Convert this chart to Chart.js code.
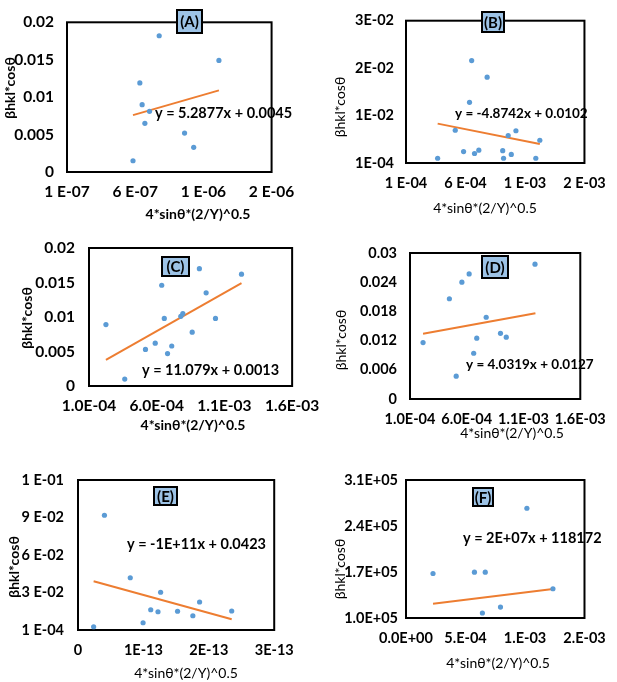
<!DOCTYPE html>
<html>
<head>
<meta charset="utf-8">
<script src="https://cdn.jsdelivr.net/npm/chart.js@4.4.0/dist/chart.umd.min.js"></script>
<style>
  html, body { margin: 0; padding: 0; background: #fff; }
  #page { position: relative; width: 617px; height: 682px; overflow: hidden; background: #fff; }
  #page canvas { position: absolute; }
</style>
</head>
<body>
<div id="page">
  <canvas id="chartA"></canvas>
  <canvas id="chartB"></canvas>
  <canvas id="chartC"></canvas>
  <canvas id="chartD"></canvas>
  <canvas id="chartE"></canvas>
  <canvas id="chartF"></canvas>
</div>
<script>
// ---- data ----
// (A)
const aX = [7.76e-7, 1.214e-6, 6.34e-7, 6.51e-7, 7.05e-7, 6.71e-7, 9.62e-7, 1.029e-6, 5.84e-7];
const aY = [0.0182, 0.0149, 0.0119, 0.0090, 0.0081, 0.0065, 0.0052, 0.0033, 0.0015];
const aTrendX = [5.84e-7, 1.214e-6];
const aTrendY = [0.0076, 0.0109];
const aXTicks = [1e-7, 6e-7, 1.1e-6, 1.6e-6];
const aXLabels = ['1 E-07', '6 E-07', '1 E-06', '2 E-06'];
const aYTicks = [0, 0.005, 0.01, 0.015, 0.02];
const aYLabels = ['0', '0.005', '0.01', '0.015', '0.02'];

// (B)
const bX = [6.52e-4, 7.82e-4, 6.34e-4, 5.14e-4, 1.024e-3, 9.59e-4, 1.225e-3, 5.84e-4, 6.76e-4, 7.12e-4, 9.13e-4, 9.85e-4, 9.20e-4, 3.66e-4, 1.191e-3];
const bY = [0.0217, 0.0182, 0.0129, 0.0070, 0.0069, 0.0059, 0.0049, 0.0025, 0.0021, 0.0028, 0.0027, 0.0019, 0.0011, 0.0011, 0.0011];
const bTrendX = [3.66e-4, 1.225e-3];
const bTrendY = [0.0084, 0.0041];
const bXTicks = [1e-4, 6e-4, 1.1e-3, 1.6e-3];
const bXLabels = ['1 E-04', '6 E-04', '1 E-03', '2 E-03'];
const bYTicks = [1e-4, 0.0101, 0.0201, 0.0301];
const bYLabels = ['1E-04', '1E-02', '2E-02', '3E-02'];

// (C)
const cX = [2.25e-4, 3.64e-4, 5.17e-4, 5.89e-4, 6.37e-4, 6.56e-4, 6.80e-4, 7.11e-4, 7.78e-4, 7.93e-4, 8.62e-4, 9.15e-4, 9.65e-4, 1.034e-3, 1.226e-3];
const cY = [0.0089, 0.0010, 0.0053, 0.0062, 0.0146, 0.0098, 0.0047, 0.0058, 0.0101, 0.0105, 0.0078, 0.0170, 0.0135, 0.0098, 0.0162];
const cTrendX = [2.25e-4, 1.226e-3];
const cTrendY = [0.0038, 0.0149];
const cXTicks = [1e-4, 6e-4, 1.1e-3, 1.6e-3];
const cXLabels = ['1.0E-04', '6.0E-04', '1.1E-03', '1.6E-03'];
const cYTicks = [0, 0.005, 0.01, 0.015, 0.02];
const cYLabels = ['0', '0.005', '0.01', '0.015', '0.02'];

// (D)
const dX = [2.15e-4, 4.47e-4, 5.07e-4, 5.57e-4, 6.21e-4, 6.61e-4, 6.88e-4, 7.71e-4, 8.97e-4, 9.48e-4, 1.201e-3];
const dY = [0.0116, 0.0206, 0.0047, 0.0240, 0.0257, 0.0094, 0.0125, 0.0168, 0.0135, 0.0127, 0.0277];
const dTrendX = [2.15e-4, 1.205e-3];
const dTrendY = [0.0134, 0.0176];
const dXTicks = [1e-4, 6e-4, 1.1e-3, 1.6e-3];
const dXLabels = ['1.0E-04', '6.0E-04', '1.1E-03', '1.6E-03'];
const dYTicks = [0, 0.006, 0.012, 0.018, 0.024, 0.03];
const dYLabels = ['0', '0.006', '0.012', '0.018', '0.024', '0.03'];

// (E)
const eX = [2.39e-14, 4.04e-14, 7.99e-14, 9.95e-14, 1.112e-13, 1.223e-13, 1.263e-13, 1.522e-13, 1.756e-13, 1.859e-13, 2.35e-13];
const eY = [0.0027, 0.0919, 0.0419, 0.0059, 0.0163, 0.0147, 0.0303, 0.0151, 0.0115, 0.0225, 0.0153];
const eTrendX = [2.39e-14, 2.35e-13];
const eTrendY = [0.0391, 0.0087];
const eXTicks = [0, 1e-13, 2e-13, 3e-13];
const eXLabels = ['0', '1E-13', '2E-13', '3E-13'];
const eYTicks = [1e-4, 0.0301, 0.0601, 0.0901, 0.1201];
const eYLabels = ['1 E-04', '3 E-02', '6 E-02', '9 E-02', '1 E-01'];

// (F)
const fX = [2.27e-4, 5.75e-4, 6.66e-4, 6.42e-4, 7.94e-4, 1.016e-3, 1.235e-3];
const fY = [167700, 169800, 169800, 107600, 116700, 267000, 144500];
const fTrendX = [2.27e-4, 1.235e-3];
const fTrendY = [121700, 144000];
const fXTicks = [0, 5e-4, 1e-3, 1.5e-3];
const fXLabels = ['0.0E+00', '5.E-04', '1.E-03', '2.E-03'];
const fYTicks = [1e5, 1.7e5, 2.4e5, 3.1e5];
const fYLabels = ['1.0E+05', '1.7E+05', '2.4E+05', '3.1E+05'];

const panelTags = ['(A)', '(B)', '(C)', '(D)', '(E)', '(F)'];
const equations = [
  'y = 5.2877x + 0.0045',
  'y = -4.8742x + 0.0102',
  'y = 11.079x + 0.0013',
  'y = 4.0319x + 0.0127',
  'y = -1E+11x + 0.0423',
  'y = 2E+07x + 118172'
];
const xTitle = '4*sin\u03b8*(2/Y)^0.5';
const yTitle = '\u03b2hkl*cos\u03b8';

// ---- layout (page pixels) ----
const FONT = 'Lato, "Open Sans", sans-serif';
const panels = [
  { id: 'chartA', xs: aX, ys: aY, tx: aTrendX, ty: aTrendY, xt: aXTicks, xl: aXLabels, yt: aYTicks, yl: aYLabels,
    box: {x: 0, y: 0, w: 305, h: 222}, area: {l: 67, t: 6, r: 290, b: 172}, tick: 15.5, gap: 13,
    yT: {x: 10, y: 88, w: 'bold'}, xT: {x: 198, y: 214, w: 'bold'}, eq: {x: 155, y: 113, s: 14.5}, tag: {l: 177, t: 10, r: 202, b: 33} },
  { id: 'chartB', xs: bX, ys: bY, tx: bTrendX, ty: bTrendY, xt: bXTicks, xl: bXLabels, yt: bYTicks, yl: bYLabels,
    box: {x: 305, y: 0, w: 312, h: 222}, area: {l: 406, t: 9, r: 598, b: 163}, tick: 14.5, gap: 12,
    yT: {x: 340, y: 107, w: 'normal'}, xT: {x: 485, y: 208, w: 'normal'}, eq: {x: 455, y: 114, s: 13.5}, tag: {l: 482, t: 12, r: 504, b: 32} },
  { id: 'chartC', xs: cX, ys: cY, tx: cTrendX, ty: cTrendY, xt: cXTicks, xl: cXLabels, yt: cYTicks, yl: cYLabels,
    box: {x: 0, y: 222, w: 330, h: 215}, area: {l: 89, t: 248, r: 298, b: 386}, tick: 15.5, gap: 14,
    yT: {x: 27, y: 318, w: 'bold'}, xT: {x: 193, y: 425, w: 'bold'}, eq: {x: 142, y: 370, s: 14.5}, tag: {l: 162, t: 257, r: 189, b: 276} },
  { id: 'chartD', xs: dX, ys: dY, tx: dTrendX, ty: dTrendY, xt: dXTicks, xl: dXLabels, yt: dYTicks, yl: dYLabels,
    box: {x: 330, y: 225, w: 287, h: 220}, area: {l: 410, t: 253, r: 597, b: 399}, tick: 14.5, gap: 13,
    yT: {x: 341, y: 340, w: 'normal'}, xT: {x: 512, y: 433, w: 'normal'}, eq: {x: 466, y: 365, s: 13.5}, tag: {l: 482, t: 256, r: 508, b: 278} },
  { id: 'chartE', xs: eX, ys: eY, tx: eTrendX, ty: eTrendY, xt: eXTicks, xl: eXLabels, yt: eYTicks, yl: eYLabels,
    box: {x: 0, y: 445, w: 305, h: 237}, area: {l: 78, t: 480, r: 283, b: 630}, tick: 14.5, gap: 14,
    yT: {x: 14, y: 567, w: 'bold'}, xT: {x: 186, y: 673, w: 'normal'}, eq: {x: 127, y: 544, s: 14.5}, tag: {l: 154, t: 487, r: 177, b: 505} },
  { id: 'chartF', xs: fX, ys: fY, tx: fTrendX, ty: fTrendY, xt: fXTicks, xl: fXLabels, yt: fYTicks, yl: fYLabels,
    box: {x: 305, y: 445, w: 312, h: 237}, area: {l: 406, t: 480, r: 593, b: 618}, tick: 14.5, gap: 8,
    yT: {x: 340, y: 569, w: 'normal'}, xT: {x: 498, y: 663, w: 'normal'}, eq: {x: 463, y: 538, s: 14.5}, tag: {l: 473, t: 488, r: 493, b: 506} }
];

function decor(p, idx) {
  return {
    id: 'decor' + idx,
    beforeDatasetsDraw(chart) {
      const {ctx, chartArea: a} = chart;
      ctx.save();
      ctx.strokeStyle = '#000';
      ctx.lineWidth = 2;
      ctx.strokeRect(a.left, a.top, a.right - a.left, a.bottom - a.top);
      ctx.restore();
    },
    afterDraw(chart) {
      const ctx = chart.ctx;
      const ox = p.box.x, oy = p.box.y;
      ctx.save();
      ctx.fillStyle = '#000';
      ctx.textBaseline = 'middle';

      // axis titles
      ctx.textAlign = 'center';
      ctx.font = p.xT.w + ' 14px ' + FONT;
      ctx.fillText(xTitle, p.xT.x - ox, p.xT.y - oy);
      ctx.save();
      ctx.translate(p.yT.x - ox, p.yT.y - oy);
      ctx.rotate(-Math.PI / 2);
      ctx.font = p.yT.w + ' 14px ' + FONT;
      ctx.fillText(yTitle, 0, 0);
      ctx.restore();

      // trend equation
      ctx.textAlign = 'left';
      ctx.font = 'bold ' + p.eq.s + 'px ' + FONT;
      ctx.fillText(equations[idx], p.eq.x - ox, p.eq.y - oy);

      // panel tag box
      const t = p.tag;
      ctx.fillStyle = '#9dc3e6';
      ctx.fillRect(t.l - ox, t.t - oy, t.r - t.l, t.b - t.t);
      ctx.strokeStyle = '#000';
      ctx.lineWidth = 2;
      ctx.strokeRect(t.l - ox, t.t - oy, t.r - t.l, t.b - t.t);
      ctx.fillStyle = '#000';
      ctx.textAlign = 'center';
      ctx.font = 'bold 15px ' + FONT;
      ctx.fillText(panelTags[idx], (t.l + t.r) / 2 - ox, (t.t + t.b) / 2 - oy + 1);
      ctx.restore();
    }
  };
}

panels.forEach((p, idx) => {
  const cv = document.getElementById(p.id);
  cv.width = p.box.w;
  cv.height = p.box.h;
  cv.style.left = p.box.x + 'px';
  cv.style.top = p.box.y + 'px';
  cv.style.width = p.box.w + 'px';
  cv.style.height = p.box.h + 'px';

  const tickFont = {family: FONT, size: p.tick, weight: 'bold'};
  const padX = 20 - p.tick * 0.6;

  new Chart(cv.getContext('2d'), {
    type: 'scatter',
    data: {
      datasets: [
        {
          data: p.xs.map((x, i) => ({x: x, y: p.ys[i]})),
          backgroundColor: '#5b9bd5',
          borderWidth: 0,
          pointRadius: 2.6
        },
        {
          data: p.tx.map((x, i) => ({x: x, y: p.ty[i]})),
          showLine: true,
          borderColor: '#ed7d31',
          borderWidth: 2,
          pointRadius: 0
        }
      ]
    },
    options: {
      responsive: false,
      animation: false,
      events: [],
      layout: {
        autoPadding: false,
        padding: {left: 0, top: p.area.t - p.box.y, right: p.box.x + p.box.w - p.area.r, bottom: 0}
      },
      plugins: {legend: {display: false}, tooltip: {enabled: false}},
      scales: {
        x: {
          type: 'linear',
          min: p.xt[0],
          max: p.xt[p.xt.length - 1],
          grid: {display: false, drawTicks: false},
          border: {display: false},
          afterBuildTicks: s => { s.ticks = p.xt.map(v => ({value: v})); },
          afterFit: s => { s.height = p.box.y + p.box.h - p.area.b; },
          ticks: {
            autoSkip: false, maxRotation: 0, minRotation: 0,
            padding: padX, color: '#000', font: tickFont,
            callback: (v, i) => p.xl[i]
          }
        },
        y: {
          type: 'linear',
          min: p.yt[0],
          max: p.yt[p.yt.length - 1],
          grid: {display: false, drawTicks: false},
          border: {display: false},
          afterBuildTicks: s => { s.ticks = p.yt.map(v => ({value: v})); },
          afterFit: s => { s.width = p.area.l - p.box.x; },
          ticks: {
            autoSkip: false,
            padding: p.gap, color: '#000', font: tickFont,
            callback: (v, i) => p.yl[i]
          }
        }
      }
    },
    plugins: [decor(p, idx)]
  });
});
</script>
</body>
</html>
